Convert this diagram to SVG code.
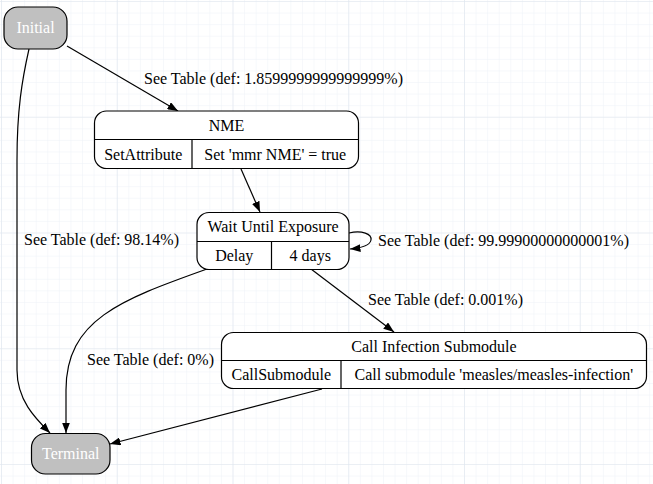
<svg xmlns="http://www.w3.org/2000/svg" width="653" height="484" viewBox="0 0 653 484" font-family="'Liberation Serif', 'Times New Roman', 'DejaVu Serif', serif">
<style>
text{font-family:'Liberation Serif','Times New Roman','DejaVu Serif',serif;font-size:16px;fill:#000}
.c{text-anchor:middle}
.w{fill:#fff}
.box{fill:#fff;stroke:#000;stroke-width:1.2}
.term{fill:#c0c0c0;stroke:#000;stroke-width:1.2}
.div{stroke:#000;stroke-width:1.2;fill:none}
.edge{fill:none;stroke:#000;stroke-width:1.2}
</style>
<defs>
<pattern id="minor" patternUnits="userSpaceOnUse" x="1" y="1" width="11.575" height="11.575">
<path d="M0,0V11.575M0,0H11.575" stroke="#edf2f7" stroke-width="1" fill="none"/>
</pattern>
<pattern id="major" patternUnits="userSpaceOnUse" x="1" y="1" width="115.75" height="115.75">
<path d="M0,0V115.75M0,0H115.75" stroke="#dfe6ee" stroke-width="1.2" fill="none"/>
</pattern>
<marker id="arr" markerUnits="userSpaceOnUse" markerWidth="11" markerHeight="8" refX="10.5" refY="4" orient="auto">
<path d="M0,0 L10.5,4 L0,8 z" fill="#000"/>
</marker>
</defs>
<rect width="653" height="484" fill="#fff"/>
<rect width="653" height="484" fill="url(#minor)"/>
<rect width="653" height="484" fill="url(#major)"/>

<g id="connectors">
<path class="edge" marker-end="url(#arr)" d="M67,46 L178,111"/>
<text x="144" y="84">See Table (def: 1.8599999999999999%)</text>
<path class="edge" marker-end="url(#arr)" d="M29,49 C22,80 17,110 17,160 L17,370 C17,400 35,418 50,433"/>
<text x="24" y="245">See Table (def: 98.14%)</text>
<path class="edge" marker-end="url(#arr)" d="M241,169 L260,212"/>
<path class="edge" marker-end="url(#arr)" d="M349,233 C362,230 372,234 371,240 C370,245 362,248 350,249"/>
<text x="378" y="246">See Table (def: 99.99900000000001%)</text>
<path class="edge" marker-end="url(#arr)" d="M311,269 L394,332"/>
<text x="368" y="305">See Table (def: 0.001%)</text>
<path class="edge" marker-end="url(#arr)" d="M207,269 C120,300 66,320 66,390 L66,433"/>
<text x="87" y="365">See Table (def: 0%)</text>
<path class="edge" marker-end="url(#arr)" d="M322,389 L110,444"/>
</g>

<g id="initial">
<rect class="term" x="4" y="7" width="63" height="42" rx="14"/>
<text class="c w" x="35.5" y="33">Initial</text>
</g>

<g id="nme">
<rect class="box" x="94.5" y="111" width="264" height="57.5" rx="12"/>
<path class="div" d="M94.5,139.5H358.5M192,139.5V168.5"/>
<text class="c" x="226.5" y="131">NME</text>
<text class="c" x="143.25" y="160">SetAttribute</text>
<text class="c" x="275.25" y="160">Set 'mmr NME' = true</text>
</g>

<g id="wait">
<rect class="box" x="197" y="212.5" width="152" height="57" rx="12"/>
<path class="div" d="M197,241.5H349M271.5,241.5V269.5"/>
<text class="c" x="273" y="232">Wait Until Exposure</text>
<text class="c" x="234.25" y="261">Delay</text>
<text class="c" x="310.25" y="261">4 days</text>
</g>

<g id="call">
<rect class="box" x="221.5" y="332.5" width="425" height="56" rx="12"/>
<path class="div" d="M221.5,360.5H646.5M341,360.5V388.5"/>
<text class="c" x="434" y="352">Call Infection Submodule</text>
<text class="c" x="281.25" y="380">CallSubmodule</text>
<text class="c" x="493.75" y="380">Call submodule 'measles/measles-infection'</text>
</g>

<g id="terminal">
<rect class="term" x="31.5" y="433.5" width="78.5" height="40.5" rx="14"/>
<text class="c w" x="70.75" y="459">Terminal</text>
</g>
</svg>
